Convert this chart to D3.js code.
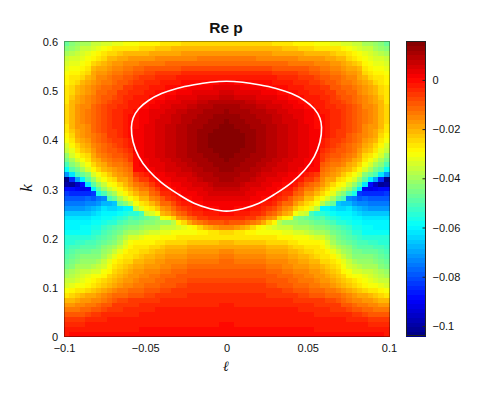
<!DOCTYPE html>
<html>
<head>
<meta charset="utf-8">
<style>
  body { margin: 0; background: #fff; }
  svg { display: block; }
  text { font-family: "Liberation Sans", Arial, sans-serif; fill: #111; }
</style>
<script src="https://cdnjs.cloudflare.com/ajax/libs/d3/7.8.5/d3.min.js"></script>
</head>
<body>
<div id="chart"></div>
<script>
// Re p, in units of 0.001.
// One array per |l| column (0, 1/300, ... 0.1), each from k = 0 to k = 0.6 in steps of 0.01.
// The picture is mirror symmetric about l = 0, so only the right half is kept.
var pColumns = [
[-1,-1,-1,-2,-2,-3,-3,-4,-5,-6,-7,-8,-9,-10,-11,-12,-14,-16,-19,-22,-26,-25,-15,-8,-4,-1,1,2,4,6,7,8,10,11,12.0,12.9,13.7,14.4,14.9,15.2,15.3,15.2,14.9,14.4,13.7,12.8,11.7,10,9,7,5,3,1,-2,-5,-8,-11,-14,-18,-21,-24],
[-1,-1,-1,-2,-2,-3,-3,-4,-5,-6,-7,-8,-9,-10,-11,-12,-14,-16,-19,-22,-26,-25,-16,-9,-4,-1,1,2,4,6,7,8,10,11,11.7,12.6,13.4,14.0,14.5,14.8,14.9,14.8,14.5,14.0,13.4,12.5,11.4,10,8,7,5,3,1,-2,-5,-8,-11,-14,-18,-21,-24],
[-1,-1,-2,-2,-2,-3,-4,-4,-5,-6,-7,-8,-9,-10,-11,-13,-15,-17,-20,-23,-26,-26,-18,-10,-5,-2,0,2,4,5,7,8,9,10,11.1,12.0,12.8,13.5,14.0,14.3,14.4,14.3,14.0,13.5,12.9,12.0,10.9,10,8,6,4,3,0,-2,-5,-8,-11,-14,-18,-21,-24],
[-1,-1,-2,-2,-3,-3,-4,-4,-5,-6,-7,-8,-9,-10,-11,-13,-15,-17,-20,-23,-26,-27,-19,-10,-5,-2,0,2,3,5,6,7,8,9,10.5,11.4,12.2,12.9,13.4,13.7,13.8,13.7,13.4,13.0,12.3,11.5,10.4,9,8,6,4,2,0,-2,-5,-8,-11,-14,-18,-21,-24],
[-1,-1,-2,-2,-3,-3,-4,-4,-5,-6,-7,-8,-9,-10,-11,-13,-15,-17,-20,-23,-26,-28,-22,-12,-6,-3,-1,1,3,4,5,6,8,9,9.8,10.7,11.5,12.1,12.6,12.9,13.0,12.9,12.7,12.3,11.6,10.8,9.8,9,7,5,4,2,0,-2,-5,-8,-11,-14,-18,-21,-24],
[-1,-1,-2,-2,-3,-3,-4,-5,-5,-6,-7,-8,-9,-10,-12,-14,-15,-17,-20,-23,-26,-29,-25,-14,-7,-4,-2,0,2,3,4,6,7,8,9.0,9.9,10.7,11.4,11.9,12.2,12.3,12.2,12.0,11.5,10.9,10.2,9.2,8,7,5,3,2,0,-2,-5,-8,-11,-14,-18,-21,-25],
[-1,-1,-2,-2,-3,-3,-4,-5,-5,-6,-7,-8,-9,-10,-12,-14,-16,-18,-20,-23,-26,-30,-28,-16,-9,-5,-3,0,1,2,4,5,6,7,8.3,9.2,9.9,10.6,11.1,11.4,11.5,11.4,11.2,10.8,10.2,9.5,8.6,7,6,4,3,1,-1,-3,-5,-8,-11,-15,-18,-21,-25],
[-1,-1,-2,-2,-3,-3,-4,-5,-5,-6,-7,-8,-9,-10,-12,-14,-16,-18,-20,-23,-26,-30,-31,-20,-12,-7,-4,-2,0,1,3,4,5,6,7.5,8.4,9.1,9.8,10.3,10.6,10.7,10.6,10.4,10.0,9.5,8.9,8.0,7,5,4,2,1,-1,-3,-5,-8,-11,-15,-18,-22,-25],
[-1,-1,-2,-2,-3,-3,-4,-5,-6,-7,-8,-9,-10,-11,-13,-15,-17,-19,-21,-24,-27,-30,-33,-25,-15,-9,-6,-3,-1,1,2,3,4,6,6.7,7.6,8.3,8.9,9.4,9.6,9.7,9.6,9.5,9.1,8.6,8.0,7.2,6,5,3,2,0,-1,-3,-5,-8,-12,-15,-18,-22,-25],
[-1,-1,-2,-2,-3,-3,-4,-5,-6,-7,-8,-9,-10,-11,-13,-15,-17,-19,-21,-24,-27,-30,-35,-28,-18,-12,-8,-5,-2,0,1,2,3,5,5.9,6.7,7.4,8.0,8.5,8.7,8.8,8.7,8.6,8.3,7.8,7.2,6.5,5,4,3,1,0,-2,-3,-6,-9,-12,-15,-19,-22,-26],
[-1,-1,-2,-2,-3,-3,-4,-5,-6,-7,-9,-10,-11,-12,-14,-16,-18,-20,-22,-24,-28,-31,-36,-38,-24,-16,-11,-8,-5,-2,0,1,3,4,5.0,5.8,6.5,7.1,7.5,7.7,7.8,7.8,7.6,7.3,6.9,6.3,5.6,5,3,2,0,-1,-2,-4,-6,-9,-12,-15,-19,-22,-26],
[-1,-1,-2,-2,-3,-3,-4,-5,-6,-8,-9,-10,-12,-13,-15,-16,-18,-20,-22,-25,-28,-32,-37,-41,-28,-20,-15,-11,-7,-4,-2,0,2,3,4.2,5.0,5.6,6.2,6.6,6.8,6.9,6.8,6.7,6.4,6.0,5.5,4.8,4,3,2,0,-1,-3,-4,-7,-9,-12,-16,-19,-23,-27],
[-1,-1,-2,-2,-3,-3,-4,-5,-7,-8,-10,-11,-12,-14,-15,-17,-19,-21,-23,-26,-29,-32,-37,-42,-30,-22,-17,-12,-9,-5,-3,-1,1,2,3.4,4.1,4.7,5.3,5.6,5.8,5.8,5.8,5.7,5.5,5.1,4.6,4.0,3,2,0,-1,-2,-3,-5,-7,-10,-13,-16,-20,-23,-27],
[-1,-1,-2,-2,-3,-3,-4,-6,-7,-9,-11,-12,-13,-15,-17,-18,-20,-22,-24,-27,-30,-34,-39,-42,-44,-30,-23,-18,-13,-9,-6,-3,-1,1,2.5,3.2,3.8,4.3,4.6,4.8,4.8,4.8,4.7,4.5,4.2,3.7,3.2,2,1,-1,-1,-2,-4,-5,-7,-10,-13,-16,-20,-23,-28],
[-1,-1,-2,-3,-3,-4,-5,-6,-8,-9,-11,-13,-14,-16,-17,-19,-21,-23,-25,-28,-30,-35,-40,-44,-46,-34,-26,-21,-16,-12,-9,-6,-3,-1,1.7,2.3,2.9,3.3,3.6,3.7,3.7,3.7,3.6,3.5,3.2,2.8,2.3,1,0,-1,-2,-3,-4,-6,-8,-10,-13,-17,-20,-24,-28],
[-1,-1,-2,-3,-3,-4,-5,-6,-8,-10,-12,-13,-15,-16,-18,-20,-22,-24,-26,-28,-31,-36,-40,-44,-48,-36,-29,-25,-21,-17,-13,-9,-6,-2,0.9,1.5,2.0,2.4,2.6,2.7,2.7,2.7,2.6,2.5,2.2,1.9,1.5,0,-1,-2,-3,-4,-5,-6,-8,-10,-14,-17,-21,-25,-29],
[-1,-1,-2,-3,-3,-4,-5,-7,-9,-11,-13,-14,-16,-17,-19,-21,-23,-25,-26,-29,-33,-38,-42,-46,-49,-51,-33,-26,-22,-18,-14,-11,-7,-4,0.1,0.7,1.1,1.4,1.6,1.6,1.6,1.6,1.6,1.5,1.2,0.9,0.6,-1,-2,-3,-4,-5,-6,-7,-9,-11,-14,-18,-21,-25,-29],
[-1,-2,-2,-3,-4,-5,-6,-7,-9,-11,-14,-15,-17,-18,-20,-22,-24,-26,-27,-29,-34,-40,-44,-48,-51,-54,-38,-30,-26,-22,-18,-14,-10,-6,-0.7,-0.2,0.2,0.4,0.5,0.5,0.5,0.5,0.5,0.4,0.2,0,-0.3,-2,-2,-3,-4,-5,-6,-8,-10,-12,-15,-18,-22,-26,-30],
[-1,-2,-2,-3,-4,-5,-6,-7,-10,-12,-15,-17,-18,-20,-22,-24,-26,-27,-28,-30,-35,-39,-43,-47,-50,-55,-60,-38,-30,-25,-21,-18,-15,-13,-11,-9,-7,-6,-4,-3,-2,-1,-1,-1,-1,-1,-2,-2,-3,-4,-5,-6,-8,-9,-11,-13,-15,-18,-22,-26,-30],
[-1,-2,-2,-3,-4,-5,-6,-8,-11,-13,-16,-18,-20,-21,-23,-25,-27,-29,-32,-35,-38,-41,-45,-49,-53,-57,-61,-43,-35,-29,-25,-22,-19,-16,-14,-11,-9,-8,-6,-5,-4,-3,-3,-3,-3,-3,-3,-4,-5,-5,-6,-7,-9,-10,-12,-14,-16,-19,-22,-26,-31],
[-1,-2,-2,-3,-4,-6,-7,-8,-11,-14,-17,-19,-21,-23,-25,-27,-29,-32,-36,-39,-42,-45,-48,-51,-55,-59,-62,-48,-39,-33,-28,-24,-20,-17,-15,-13,-11,-9,-8,-7,-6,-5,-5,-4,-4,-4,-4,-5,-6,-6,-7,-9,-10,-12,-13,-15,-17,-20,-23,-26,-32],
[-1,-2,-3,-3,-4,-6,-7,-9,-12,-15,-19,-21,-23,-25,-27,-29,-32,-36,-40,-43,-46,-48,-50,-54,-57,-60,-64,-66,-47,-40,-33,-28,-24,-20,-17,-14,-12,-10,-9,-8,-7,-6,-6,-5,-5,-5,-5,-6,-7,-8,-9,-10,-11,-12,-14,-16,-18,-21,-24,-27,-33],
[-1,-2,-3,-3,-5,-7,-9,-11,-14,-17,-21,-23,-25,-28,-31,-33,-36,-39,-42,-45,-47,-49,-52,-55,-58,-61,-65,-68,-52,-44,-37,-31,-27,-23,-19,-16,-14,-12,-10,-9,-8,-7,-7,-6,-6,-6,-6,-7,-8,-9,-10,-11,-13,-14,-16,-18,-20,-22,-25,-28,-34],
[-1,-2,-3,-4,-5,-8,-10,-13,-16,-19,-23,-25,-28,-31,-34,-37,-40,-42,-44,-47,-49,-51,-53,-56,-58,-60,-63,-68,-74,-52,-42,-37,-31,-27,-22,-19,-16,-14,-12,-11,-10,-9,-8,-8,-8,-8,-8,-8,-9,-10,-11,-12,-14,-15,-17,-19,-21,-24,-27,-30,-35],
[-1,-2,-3,-4,-6,-9,-12,-15,-18,-22,-25,-27,-30,-34,-37,-40,-43,-45,-47,-49,-51,-54,-56,-58,-60,-63,-67,-71,-76,-57,-49,-42,-35,-30,-25,-22,-19,-16,-14,-13,-12,-11,-10,-10,-9,-9,-9,-10,-11,-11,-12,-13,-15,-16,-18,-20,-23,-26,-29,-32,-36],
[-1,-2,-3,-4,-7,-10,-13,-16,-19,-23,-27,-29,-31,-35,-38,-41,-44,-46,-49,-51,-53,-55,-57,-59,-61,-64,-68,-73,-79,-83,-60,-50,-41,-35,-29,-25,-22,-19,-17,-15,-14,-13,-12,-12,-12,-12,-12,-12,-13,-14,-15,-16,-17,-19,-20,-22,-25,-28,-31,-34,-37],
[-1,-2,-3,-5,-8,-11,-14,-17,-20,-24,-28,-31,-33,-36,-39,-41,-44,-47,-50,-52,-54,-58,-59,-60,-62,-66,-70,-74,-78,-84,-91,-62,-50,-43,-35,-30,-27,-24,-21,-19,-17,-16,-15,-15,-14,-14,-14,-15,-15,-16,-17,-18,-20,-22,-24,-26,-28,-30,-33,-36,-39],
[-1,-3,-4,-6,-9,-12,-15,-18,-22,-26,-30,-32,-34,-37,-39,-41,-44,-47,-50,-53,-55,-58,-59,-61,-63,-67,-71,-75,-80,-85,-93,-88,-60,-48,-40,-34,-30,-26,-23,-21,-19,-18,-17,-17,-16,-16,-16,-16,-17,-18,-19,-20,-22,-24,-26,-28,-30,-32,-35,-37,-40],
[-1,-3,-4,-6,-9,-13,-16,-19,-23,-27,-31,-34,-36,-38,-40,-43,-46,-48,-51,-53,-55,-58,-60,-61,-63,-67,-71,-75,-80,-85,-90,-97,-70,-52,-45,-39,-35,-31,-27,-24,-22,-20,-19,-18,-18,-18,-18,-18,-19,-20,-21,-22,-24,-26,-28,-30,-32,-34,-36,-39,-42],
[-1,-3,-5,-7,-10,-13,-17,-21,-25,-29,-33,-36,-38,-40,-43,-46,-48,-50,-52,-54,-55,-58,-60,-61,-63,-67,-71,-75,-79,-84,-89,-102,-85,-62,-50,-44,-39,-35,-32,-29,-26,-24,-23,-22,-21,-21,-21,-21,-22,-23,-24,-25,-26,-27,-29,-31,-33,-35,-38,-41,-44],
[-2,-3,-5,-7,-10,-14,-18,-22,-26,-30,-34,-37,-40,-42,-45,-48,-50,-51,-53,-54,-55,-58,-60,-61,-63,-67,-71,-75,-79,-83,-88,-100,-103,-72,-58,-51,-45,-41,-37,-34,-31,-29,-27,-26,-25,-25,-25,-25,-26,-26,-27,-27,-28,-29,-31,-33,-35,-37,-40,-43,-47]
];

// p = 0 contour, right half, from the top of the loop round to the bottom
var contourL = [0, 0.01, 0.02, 0.03, 0.04, 0.048, 0.054, 0.0575, 0.0585, 0.0575, 0.054, 0.048, 0.04, 0.03, 0.02, 0.01, 0];
var contourK = [0.518, 0.516, 0.511, 0.504, 0.493, 0.479, 0.462, 0.443, 0.424, 0.395, 0.365, 0.337, 0.312, 0.289, 0.27, 0.259, 0.254];

var xTicks = [-0.1, -0.05, 0, 0.05, 0.1];
var yTicks = [0, 0.1, 0.2, 0.3, 0.4, 0.5, 0.6];
var barTicks = [0, -0.02, -0.04, -0.06, -0.08, -0.1];
var colorRange = [-0.1045, 0.0154];

var width = 484, height = 393;
var plot = {left: 64, right: 389, top: 41, bottom: 336};
var bar = {left: 406, right: 426};

pColumns.forEach(function(col, j) {
    if (col.length !== 61) { throw new Error('bad column length ' + j + ': ' + col.length); }
});

var svg = d3.select('#chart').append('svg')
    .attr('width', width)
    .attr('height', height);

var x = d3.scaleLinear().domain([-0.1, 0.1]).range([plot.left, plot.right]);
var y = d3.scaleLinear().domain([0, 0.6]).range([plot.bottom, plot.top]);

// jet with 64 steps
var jet = d3.scaleLinear()
    .domain([0, 0.125, 0.375, 0.625, 0.875, 1])
    .range(['#00007f', '#0000ff', '#00ffff', '#ffff00', '#ff0000', '#7f0000']);
var jetColors = d3.range(64).map(function(i) { return jet((i + 0.5) / 64); });
var color = d3.scaleQuantize().domain(colorRange).range(jetColors);

// heat map cells, mirrored round l = 0
var cells = [];
d3.range(-30, 31).forEach(function(j, col) {
    pColumns[Math.abs(j)].forEach(function(v, row) {
        cells.push({col: col, row: row, value: v / 1000});
    });
});

var xCell = d3.scaleBand().domain(d3.range(61)).range([plot.left, plot.right]);
var yCell = d3.scaleBand().domain(d3.range(61)).range([plot.bottom, plot.top]);

svg.append('g')
    .attr('shape-rendering', 'crispEdges')
    .selectAll('rect')
    .data(cells)
    .enter().append('rect')
    .attr('x', function(d) { return xCell(d.col); })
    .attr('y', function(d) { return yCell(d.row); })
    .attr('width', xCell.bandwidth() + 0.5)
    .attr('height', yCell.bandwidth() + 0.5)
    .attr('fill', function(d) { return color(d.value); });

// thin box round the map
svg.append('rect')
    .attr('x', plot.left)
    .attr('y', plot.top)
    .attr('width', plot.right - plot.left)
    .attr('height', plot.bottom - plot.top)
    .attr('fill', 'none')
    .attr('stroke', '#000')
    .attr('stroke-opacity', 0.35)
    .attr('shape-rendering', 'crispEdges');

// white contour, right half then left half back up
var ring = contourL.map(function(l, i) { return [l, contourK[i]]; });
var mirror = ring.slice(1, -1).reverse().map(function(d) { return [-d[0], d[1]]; });

var contourLine = d3.line()
    .x(function(d) { return x(d[0]); })
    .y(function(d) { return y(d[1]); })
    .curve(d3.curveCatmullRomClosed.alpha(0.5));

svg.append('path')
    .attr('d', contourLine(ring.concat(mirror)))
    .attr('fill', 'none')
    .attr('stroke', '#fff')
    .attr('stroke-width', 1.6);

// axes, tick labels only
var xAxis = d3.axisBottom(x).tickValues(xTicks).tickSize(0).tickPadding(8).tickFormat(d3.format('~g'));
var yAxis = d3.axisLeft(y).tickValues(yTicks).tickSize(0).tickPadding(6).tickFormat(d3.format('~g'));

var gx = svg.append('g').attr('transform', 'translate(0,' + plot.bottom + ')').call(xAxis);
var gy = svg.append('g').attr('transform', 'translate(' + plot.left + ',1)').call(yAxis);
gx.select('.domain').remove();
gy.select('.domain').remove();

// colorbar
var yBar = d3.scaleLinear().domain(colorRange).range([plot.bottom, plot.top]);
var barBand = d3.scaleBand().domain(d3.range(64)).range([plot.bottom, plot.top]);

svg.append('g')
    .attr('shape-rendering', 'crispEdges')
    .selectAll('rect')
    .data(jetColors)
    .enter().append('rect')
    .attr('x', bar.left)
    .attr('y', function(d, i) { return barBand(i); })
    .attr('width', bar.right - bar.left)
    .attr('height', barBand.bandwidth() + 0.5)
    .attr('fill', function(d) { return d; });

svg.append('rect')
    .attr('x', bar.left + 0.5)
    .attr('y', plot.top + 0.5)
    .attr('width', bar.right - bar.left - 1)
    .attr('height', plot.bottom - plot.top - 1)
    .attr('fill', 'none')
    .attr('stroke', '#222');

var barAxis = d3.axisRight(yBar).tickValues(barTicks).tickSize(-3).tickPadding(7).tickFormat(d3.format('~g'));
var gb = svg.append('g').attr('transform', 'translate(' + (bar.right - 0.5) + ',1)').call(barAxis);
gb.select('.domain').remove();
gb.selectAll('line').attr('stroke', '#222');

svg.selectAll('.tick text').attr('font-size', 11).attr('font-family', '"Liberation Sans", Arial, sans-serif').attr('fill', '#111');

// title and axis labels
svg.append('text')
    .attr('x', 226)
    .attr('y', 33)
    .attr('text-anchor', 'middle')
    .attr('font-size', 15.5)
    .attr('font-weight', 'bold')
    .text('Re p');

svg.append('text')
    .attr('x', 226)
    .attr('y', 371)
    .attr('text-anchor', 'middle')
    .attr('font-size', 14)
    .attr('font-style', 'italic')
    .style('font-family', '"DejaVu Serif", "Liberation Serif", serif')
    .text('\u2113');

svg.append('text')
    .attr('transform', 'translate(32,188) rotate(-90)')
    .attr('text-anchor', 'middle')
    .attr('font-size', 17)
    .attr('font-style', 'italic')
    .style('font-family', '"Liberation Serif", serif')
    .text('k');
</script>
</body>
</html>
